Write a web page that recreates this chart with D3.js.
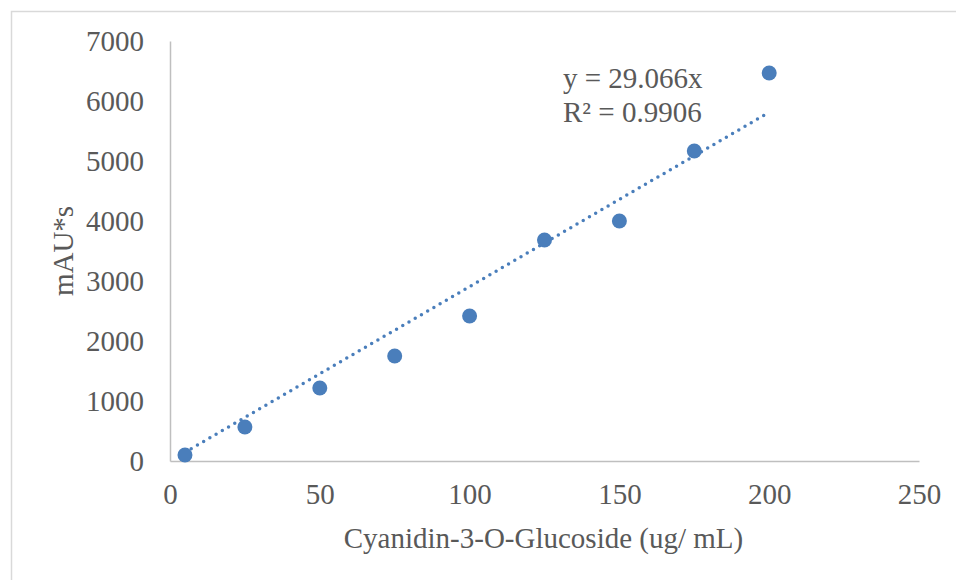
<!DOCTYPE html>
<html>
<head>
<meta charset="utf-8">
<script src="https://cdn.jsdelivr.net/npm/d3@7"></script>
<style>
  html, body { margin: 0; padding: 0; background: #fff; }
  svg { display: block; }
  text { font-family: "Liberation Serif", "Times New Roman", serif; fill: #595959; }
</style>
</head>
<body>
<svg id="chart" width="956" height="580"></svg>
<script>
// Calibration standard: concentration (ug/mL) vs. peak area (mAU*s)
const concentrations = [5, 25, 50, 75, 100, 125, 150, 175, 200];
const peakAreas = [100, 567, 1217, 1750, 2417, 3683, 4000, 5167, 6467];
const xTicks = [0, 50, 100, 150, 200, 250];
const yTicks = [0, 1000, 2000, 3000, 4000, 5000, 6000, 7000];
const slope = 29.066;
const rSquared = 0.9906;

const svg = d3.select("#chart");
const W = 956, H = 580;

// Chart frame
svg.append("rect")
  .attr("x", 11.5).attr("y", 11.5)
  .attr("width", W).attr("height", H)
  .attr("fill", "none").attr("stroke", "#d9d9d9").attr("stroke-width", 1.5);

const plot = { left: 170, right: 919, top: 41, bottom: 461 };

const x = d3.scaleLinear().domain([0, 250]).range([plot.left, plot.right]);
const y = d3.scaleLinear().domain([0, 7000]).range([plot.bottom, plot.top]);

const fontSize = 29;

// Axes
const xAxis = svg.append("g")
  .attr("transform", `translate(0,${plot.bottom})`)
  .call(d3.axisBottom(x).tickValues(xTicks).tickFormat(d3.format("d")).tickSize(0).tickPadding(22));
const yAxis = svg.append("g")
  .attr("transform", `translate(${plot.left},0)`)
  .call(d3.axisLeft(y).tickValues(yTicks).tickFormat(d3.format("d")).tickSize(0).tickPadding(26));

[xAxis, yAxis].forEach(g => {
  g.select(".domain").attr("stroke", "#bfbfbf").attr("stroke-width", 1.5);
  g.selectAll("text")
    .style("font-family", '"Liberation Serif", "Times New Roman", serif')
    .style("font-size", fontSize + "px")
    .attr("fill", "#595959");
});
yAxis.selectAll("text").attr("dy", "0.34em");

// Axis titles
svg.append("text")
  .attr("x", (plot.left + plot.right) / 2 - 1)
  .attr("y", 548)
  .attr("text-anchor", "middle")
  .style("font-size", fontSize + "px")
  .text("Cyanidin-3-O-Glucoside (ug/ mL)");

svg.append("text")
  .attr("transform", `translate(73,${(plot.top + plot.bottom) / 2}) rotate(-90)`)
  .attr("text-anchor", "middle")
  .style("font-size", fontSize + "px")
  .text("mAU*s");

// Linear trendline through the origin
const xMin = d3.min(concentrations), xMax = d3.max(concentrations);
svg.append("line")
  .attr("x1", x(xMin)).attr("y1", y(slope * xMin))
  .attr("x2", x(xMax)).attr("y2", y(slope * xMax))
  .attr("stroke", "#4a7ebb")
  .attr("stroke-width", 3.5)
  .attr("stroke-linecap", "round")
  .attr("stroke-dasharray", "0,7.2");

// Data points
svg.append("g").selectAll("circle")
  .data(concentrations.map((c, i) => [c, peakAreas[i]]))
  .join("circle")
  .attr("cx", d => x(d[0]))
  .attr("cy", d => y(d[1]))
  .attr("r", 7.5)
  .attr("fill", "#4a7ebb");

// Regression equation
const eq = svg.append("text")
  .attr("x", 563)
  .style("font-size", fontSize + "px");
eq.append("tspan").attr("x", 563).attr("y", 88).text(`y = ${slope}x`);
eq.append("tspan").attr("x", 563).attr("y", 122).text(`R² = ${rSquared}`);
</script>
</body>
</html>
